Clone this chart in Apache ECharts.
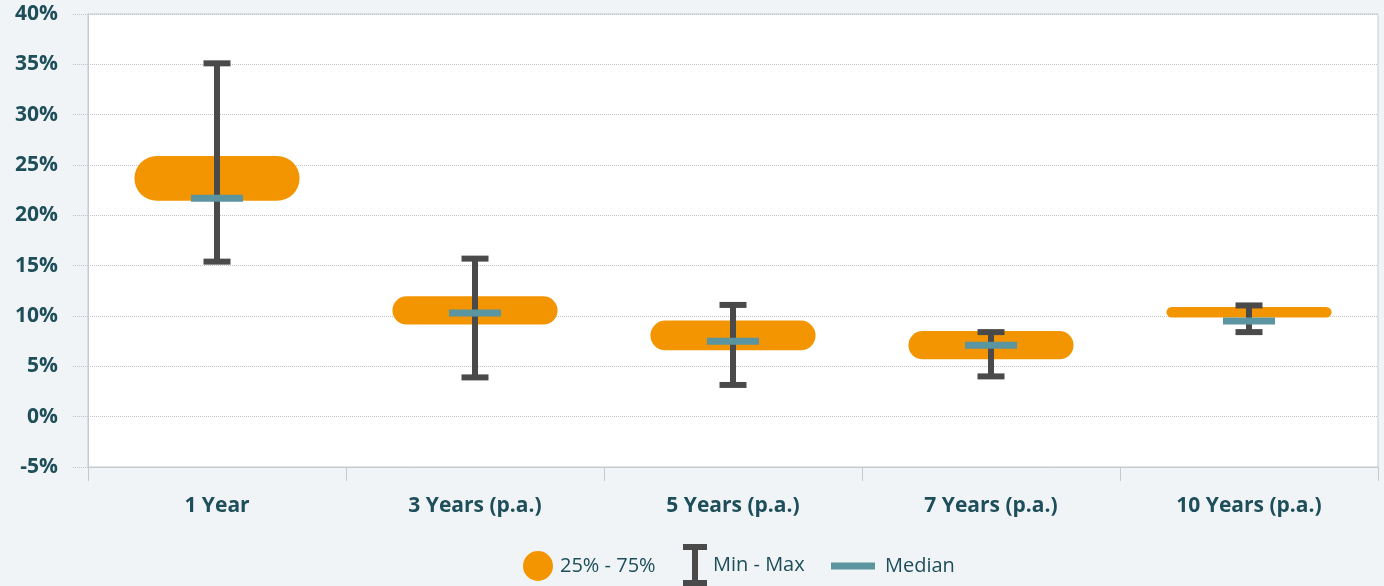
<!DOCTYPE html>
<html>
<head>
<meta charset="utf-8">
<title>Range chart</title>
<script src="https://cdn.jsdelivr.net/npm/echarts@6/dist/echarts.min.js"></script>
<style>
  html, body { margin: 0; padding: 0; background: #f0f4f7; }
  #chart { width: 1384px; height: 586px; }
</style>
</head>
<body>
<div id="chart"></div>
<script>
// data (percent)
var categories = ['1 Year', '3 Years (p.a.)', '5 Years (p.a.)', '7 Years (p.a.)', '10 Years (p.a.)'];
var minVals    = [15.4, 3.9, 3.15, 4.0, 8.4];
var maxVals    = [35.1, 15.7, 11.1, 8.4, 11.05];
var q1Vals     = [21.45, 9.15, 6.6, 5.7, 9.85];
var q3Vals     = [25.9, 11.95, 9.55, 8.5, 10.9];
var medianVals = [21.7, 10.3, 7.5, 7.1, 9.5];
var yTicks     = { min: -5, max: 40, step: 5 };

var textColor = '#1d4e59';
var font = 'Open Sans';

var boxData = categories.map(function (c, i) { return [i, q1Vals[i], q3Vals[i]]; });
var whiskerData = categories.map(function (c, i) { return [i, minVals[i], maxVals[i]]; });
var medianData = categories.map(function (c, i) { return [i, medianVals[i]]; });

var myChart = echarts.init(document.getElementById('chart'));

var option = {
    backgroundColor: '#f0f4f7',
    animation: false,
    textStyle: { fontFamily: font },
    grid: {
        left: 88, right: 6, top: 14, bottom: 119,
        show: true, backgroundColor: '#ffffff',
        borderColor: '#c6cacf', borderWidth: 1
    },
    legend: [
        {
            left: 523, top: 551, padding: 0, itemWidth: 30, itemHeight: 30,
            data: [{ name: '25% - 75%', icon: 'circle' }],
            textStyle: { color: textColor, fontSize: 20, fontFamily: font, padding: [0, 0, 0, 2] }
        },
        {
            left: 683, top: 544, padding: 0, itemWidth: 24, itemHeight: 42,
            data: [{ name: 'Min - Max', icon: 'path://M0,0H24V6H15V36H24V42H0V36H9V6H0Z' }],
            textStyle: { color: textColor, fontSize: 20, fontFamily: font, padding: [0, 0, 0, 1] }
        },
        {
            left: 831, top: 556, padding: 0, itemWidth: 44, itemHeight: 7,
            data: [{ name: 'Median', icon: 'rect' }],
            textStyle: { color: textColor, fontSize: 20, fontFamily: font, padding: [0, 0, 0, 5] }
        }
    ],
    xAxis: {
        type: 'category',
        data: categories,
        boundaryGap: true,
        axisLine: { onZero: false, lineStyle: { color: '#c6cacf', width: 1 } },
        axisTick: { show: true, length: 14, lineStyle: { color: '#c6cacf' } },
        axisLabel: { color: textColor, fontSize: 21, fontWeight: 'bold', fontFamily: font, margin: 29 },
        splitLine: { show: false }
    },
    yAxis: {
        type: 'value',
        min: yTicks.min, max: yTicks.max, interval: yTicks.step,
        axisLine: { show: true, lineStyle: { color: '#c6cacf' } },
        axisTick: { show: true, length: 15, lineStyle: { color: '#bfc3ca', type: 'dotted' } },
        axisLabel: {
            color: textColor, fontSize: 21, fontWeight: 'bold', fontFamily: font, margin: 30,
            formatter: '{value}%'
        },
        splitLine: { show: true, lineStyle: { color: '#bfc3ca', type: 'dotted', width: 1 } }
    },
    series: [
        {
            name: '25% - 75%',
            type: 'custom',
            itemStyle: { color: '#f39500' },
            encode: { x: 0, y: [1, 2] },
            data: boxData,
            renderItem: function (params, api) {
                var lo = api.coord([api.value(0), api.value(1)]);
                var hi = api.coord([api.value(0), api.value(2)]);
                var w = api.size([1, 0])[0] * 0.64;
                var h = lo[1] - hi[1];
                return {
                    type: 'rect',
                    shape: { x: lo[0] - w / 2, y: hi[1], width: w, height: h, r: h / 2 },
                    style: { fill: '#f39500' }
                };
            }
        },
        {
            name: 'Min - Max',
            type: 'custom',
            itemStyle: { color: '#4a4a4a' },
            encode: { x: 0, y: [1, 2] },
            data: whiskerData,
            renderItem: function (params, api) {
                var lo = api.coord([api.value(0), api.value(1)]);
                var hi = api.coord([api.value(0), api.value(2)]);
                var cap = 27, t = 6;
                return {
                    type: 'group',
                    children: [
                        { type: 'rect', shape: { x: lo[0] - t / 2, y: hi[1], width: t, height: lo[1] - hi[1] }, style: { fill: '#4a4a4a' } },
                        { type: 'rect', shape: { x: lo[0] - cap / 2, y: hi[1] - t / 2, width: cap, height: t }, style: { fill: '#4a4a4a' } },
                        { type: 'rect', shape: { x: lo[0] - cap / 2, y: lo[1] - t / 2, width: cap, height: t }, style: { fill: '#4a4a4a' } }
                    ]
                };
            }
        },
        {
            name: 'Median',
            type: 'custom',
            itemStyle: { color: '#5b95a0' },
            encode: { x: 0, y: 1 },
            data: medianData,
            renderItem: function (params, api) {
                var p = api.coord([api.value(0), api.value(1)]);
                var w = 52, h = 7;
                return {
                    type: 'rect',
                    shape: { x: p[0] - w / 2, y: p[1] - h / 2, width: w, height: h },
                    style: { fill: '#5b95a0' }
                };
            }
        }
    ]
};

myChart.setOption(option);
</script>
</body>
</html>
